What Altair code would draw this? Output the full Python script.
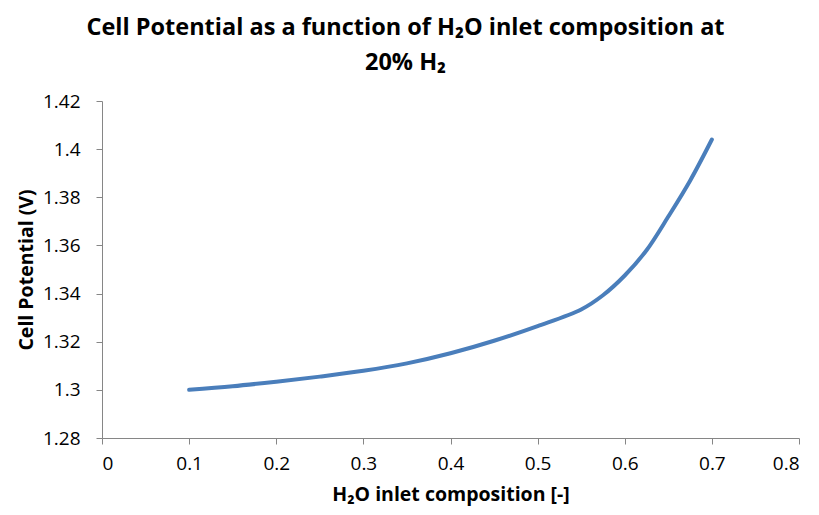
import altair as alt
import pandas as pd

h2o = [0.1, 0.15, 0.2, 0.25, 0.3, 0.35, 0.4, 0.45, 0.5, 0.55, 0.575, 0.6, 0.625, 0.65, 0.675, 0.7]
potential = [1.300, 1.3015, 1.3034, 1.3055, 1.3079, 1.311, 1.3152, 1.3204, 1.3265, 1.3334,
             1.3393, 1.3475, 1.358, 1.372, 1.3869, 1.404]

x_ticks = [0, 0.1, 0.2, 0.3, 0.4, 0.5, 0.6, 0.7, 0.8]
y_ticks = [1.28, 1.30, 1.32, 1.34, 1.36, 1.38, 1.40, 1.42]

df = pd.DataFrame({"x": h2o, "y": potential})

FONT = "Open Sans"

chart = alt.Chart(df).mark_line(
    color="#4A7EBB", strokeWidth=4, interpolate="catmull-rom", strokeCap="round"
).encode(
    x=alt.X("x:Q", scale=alt.Scale(domain=[0, 0.8], nice=False),
            axis=alt.Axis(values=x_ticks, format="~g", title="H₂O inlet composition [-]",
                          grid=False, titlePadding=12)),
    y=alt.Y("y:Q", scale=alt.Scale(domain=[1.28, 1.42], nice=False, zero=False),
            axis=alt.Axis(values=y_ticks, format="~g", title="Cell Potential (V)",
                          grid=False, titlePadding=6)),
).properties(
    width=697,
    height=337,
    autosize=alt.AutoSizeParams(type="none"),
    padding={"left": 94, "top": 93, "right": 12, "bottom": 69},
    title=alt.TitleParams(
        ["Cell Potential as a function of H₂O inlet composition at", "20% H₂"],
        fontSize=23.5, font=FONT, fontWeight="bold", color="#000000",
        anchor="middle", dx=-45, offset=18, lineHeight=35,
    ),
).configure_view(stroke=None).configure_axis(
    domainColor="#868686", tickColor="#868686", tickSize=6, domainWidth=1, tickWidth=1,
    labelFont=FONT, labelFontSize=19, labelColor="#000000", labelPadding=10,
    titleFont=FONT, titleFontSize=19.5, titleFontWeight="bold", titleColor="#000000",
).configure_axisY(labelPadding=16)

chart.save("out.html", embed_options={"renderer": "svg", "actions": False})
